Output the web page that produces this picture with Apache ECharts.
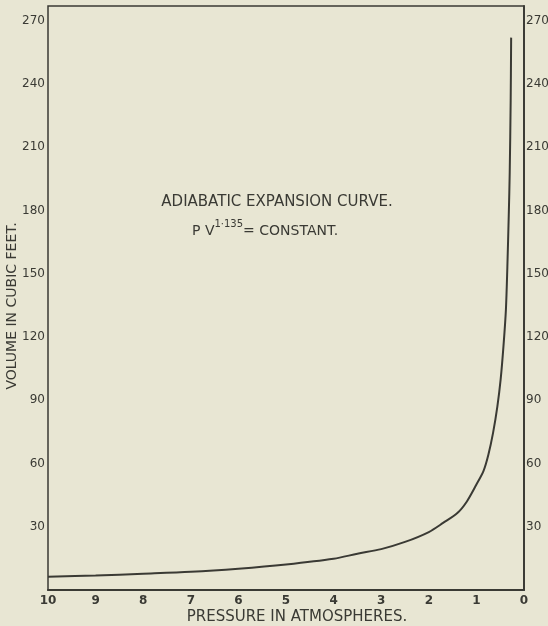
<!DOCTYPE html>
<html>
<head>
<meta charset="utf-8">
<script src="https://cdn.jsdelivr.net/npm/echarts@6/dist/echarts.min.js"></script>
<style>
  html, body { margin: 0; padding: 0; background: #e8e6d3; }
  #chart { width: 548px; height: 626px; }
</style>
</head>
<body>
<div id="chart"></div>
<script>
// pressure (atmospheres) and volume (cubic feet)
var pressure = [10, 9, 8, 7, 6, 5, 4, 3.5, 3, 2.5, 2, 1.7, 1.4, 1.2, 1, 0.85, 0.75, 0.65, 0.56, 0.49, 0.43, 0.38, 0.35, 0.32, 0.3, 0.28, 0.27];
var volume = [6.3, 6.9, 7.7, 8.6, 10.1, 12.1, 14.8, 17.2, 19.4, 22.8, 27.5, 31.8, 36.5, 42, 50, 56.5, 64, 74.5, 87, 100, 116, 133, 153, 178, 198, 232, 262];

var ink = '#3a3a34';
var curve = [];
for (var i = 0; i < pressure.length; i++) {
	curve.push([pressure[i], volume[i]]);
}

var myChart = echarts.init(document.getElementById('chart'));
var yLabel = function(v) {
	return (v > 0 && v % 30 === 0) ? v : '';
};
var option = {
	backgroundColor: '#e8e6d3',
	animation: false,
	grid: {
		left: 48, right: 24, top: 6, bottom: 36,
		outerBoundsMode: 'none',
		containLabel: false,
		show: true, borderColor: ink, borderWidth: 1.5
	},
	xAxis: {
		type: 'value',
		min: 0, max: 10, interval: 1,
		inverse: true,
		axisLine: { show: true, lineStyle: { color: ink, width: 2 } },
		axisTick: { show: false },
		splitLine: { show: false },
		axisLabel: { color: ink, fontSize: 12, fontWeight: 'bold', fontFamily: 'DejaVu Sans', margin: 5 }
	},
	yAxis: [{
		type: 'value',
		min: 0, max: 277, interval: 30,
		axisLine: { show: true, lineStyle: { color: ink, width: 1.5 } },
		axisTick: { show: false },
		splitLine: { show: false },
		axisLabel: { color: ink, fontSize: 12, fontFamily: 'DejaVu Sans', margin: 3, formatter: yLabel }
	}, {
		type: 'value',
		position: 'right',
		min: 0, max: 277, interval: 30,
		axisLine: { show: true, lineStyle: { color: ink, width: 1.5 } },
		axisTick: { show: false },
		splitLine: { show: false },
		axisLabel: { color: ink, fontSize: 12, fontFamily: 'DejaVu Sans', margin: 2, formatter: yLabel }
	}],
	graphic: [{
		type: 'text',
		x: 297, y: 617,
		style: { text: 'PRESSURE IN ATMOSPHERES.', fill: ink, font: '15px "DejaVu Sans"', align: 'center', verticalAlign: 'middle' }
	}, {
		type: 'text',
		x: 12, y: 306,
		rotation: Math.PI / 2,
		style: { text: 'VOLUME IN CUBIC FEET.', fill: ink, font: '14px "DejaVu Sans"', align: 'center', verticalAlign: 'middle' }
	}, {
		type: 'text',
		x: 277, y: 202,
		style: { text: 'ADIABATIC EXPANSION CURVE.', fill: ink, font: '15px "DejaVu Sans"', align: 'center', verticalAlign: 'middle' }
	}, {
		type: 'text',
		left: 192, top: 219,
		style: {
			text: '{b|P V}{s|1·135}{b|= CONSTANT.}',
			fill: ink,
			rich: {
				b: { fontSize: 14, fontFamily: 'DejaVu Sans', fill: ink, padding: [8, 0, 0, 0] },
				s: { fontSize: 10, fontFamily: 'DejaVu Sans', fill: ink, padding: [0, 0, 6, 0] }
			}
		}
	}],
	series: [{
		type: 'line',
		data: curve,
		smooth: 0.3,
		showSymbol: false,
		lineStyle: { color: ink, width: 2 }
	}]
};
myChart.setOption(option);
</script>
</body>
</html>
